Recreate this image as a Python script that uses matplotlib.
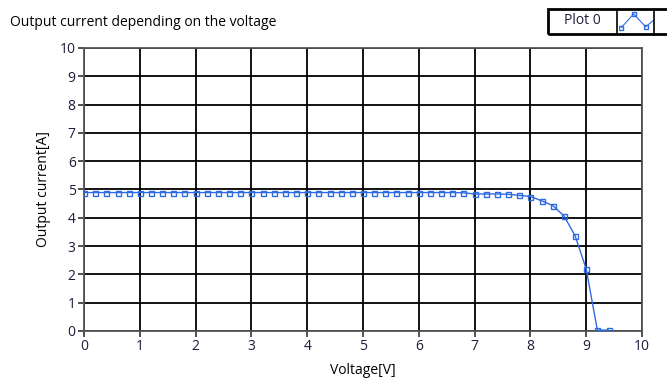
import numpy as np
import matplotlib.pyplot as plt
from matplotlib.patches import Rectangle

plt.rcParams['font.family'] = ['Open Sans', 'DejaVu Sans']

# measured points: voltage [V] and output current [A]
voltage = [0.0, 0.2, 0.4, 0.6, 0.8, 1.0, 1.2, 1.4, 1.6, 1.8,
           2.0, 2.2, 2.4, 2.6, 2.8, 3.0, 3.2, 3.4, 3.6, 3.8,
           4.0, 4.2, 4.4, 4.6, 4.8, 5.0, 5.2, 5.4, 5.6, 5.8,
           6.0, 6.2, 6.4, 6.6, 6.8, 7.0, 7.2, 7.4, 7.6, 7.8,
           8.0, 8.2, 8.4, 8.6, 8.8, 9.0, 9.2, 9.4]
current = [4.89, 4.89, 4.89, 4.89, 4.89, 4.89, 4.89, 4.89, 4.89, 4.89,
           4.89, 4.89, 4.89, 4.89, 4.89, 4.89, 4.89, 4.89, 4.89, 4.89,
           4.89, 4.89, 4.89, 4.89, 4.89, 4.89, 4.89, 4.89, 4.89, 4.89,
           4.89, 4.89, 4.89, 4.89, 4.88, 4.84, 4.84, 4.84, 4.83, 4.79,
           4.75, 4.60, 4.43, 4.07, 3.37, 2.19, 0.03, 0.03]
ticks = list(range(0, 11))

fig = plt.figure(figsize=(6.67, 3.80), dpi=100)
ax = fig.add_axes([0.126, 0.129, 0.8365, 0.745])

line_col = '#2f6be0'
ax.plot(voltage, current, color=line_col, lw=1.0, marker='s', ms=3.6,
        mfc='none', mec=line_col, mew=1.0, zorder=3)

ax.set_xlim(0, 10)
ax.set_ylim(0, 10)
ax.set_xticks(ticks)
ax.set_yticks(ticks)
ax.grid(True, color='black', lw=1.3)
for s in ax.spines.values():
    s.set_color('#555555')
    s.set_linewidth(1.3)
ax.tick_params(direction='out', length=4, width=1.2, color='#333333',
               labelsize=10, labelcolor='#1c1c3a', pad=2)
ax.set_xlabel('Voltage[V]', fontsize=10, labelpad=6)
ax.set_ylabel('Output current[A]', fontsize=10, labelpad=6)

fig.text(10 / 667, 1 - 22 / 380, 'Output current depending on the voltage',
         fontsize=10, va='center', ha='left')

# legend box in the top right corner
fig.patches.append(Rectangle((548 / 667, 1 - 34 / 380), 125 / 667, 25 / 380,
                             transform=fig.transFigure, fill=False,
                             ec='black', lw=2))
for xd in (617, 654):
    fig.patches.append(Rectangle((xd / 667, 1 - 34 / 380), 0.0005, 25 / 380,
                                 transform=fig.transFigure, fill=False,
                                 ec='black', lw=1.2))
fig.text(582 / 667, 1 - 20 / 380, 'Plot 0', fontsize=10,
         ha='center', va='center', color='#1c1c3a')
icon = fig.add_axes([619 / 667, 1 - 32 / 380, 34 / 667, 21 / 380])
icon.plot([0, 1, 2, 2.6], [0.1, 1.0, 0.15, 0.55], color=line_col, lw=0.8)
icon.plot([0, 1, 2], [0.1, 1.0, 0.15], ls='none',
          marker='s', ms=2.5, mfc='none', mec=line_col)
icon.set_xlim(-0.2, 2.6)
icon.set_ylim(-0.2, 1.2)
icon.axis('off')

fig.savefig('out.png', dpi=100)
